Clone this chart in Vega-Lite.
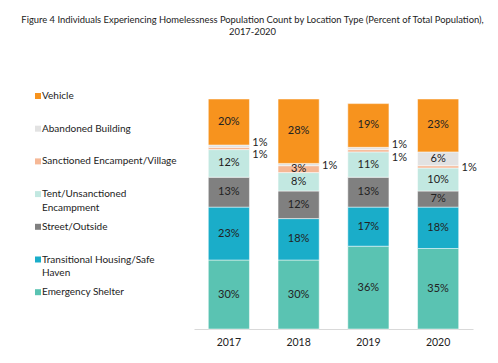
{
  "$schema": "https://vega.github.io/schema/vega-lite/v6.json",
  "width": 279,
  "height": 230,
  "autosize": {"type": "none"},
  "padding": {"left": 194, "top": 99, "right": 25, "bottom": 34},
  "config": {"view": {"stroke": null}, "font": "Lato"},
  "title": {
    "text": ["Figure 4 Individuals Experiencing Homelessness Population Count by Location Type (Percent of Total Population),", "2017-2020"],
    "fontSize": 9.4,
    "fontWeight": "normal",
    "font": "Lato",
    "color": "#222222",
    "anchor": "middle",
    "dx": -81,
    "offset": 54,
    "lineHeight": 12
  },
  "data": {
    "values": [
      {"year": "2017", "cat": "Emergency Shelter", "v": 30, "o": 1},
      {"year": "2017", "cat": "Transitional Housing/Safe Haven", "v": 23, "o": 2},
      {"year": "2017", "cat": "Street/Outside", "v": 13, "o": 3},
      {"year": "2017", "cat": "Tent/Unsanctioned Encampment", "v": 12, "o": 4},
      {"year": "2017", "cat": "Sanctioned Encampent/Village", "v": 1, "o": 5},
      {"year": "2017", "cat": "Abandoned Building", "v": 1, "o": 6},
      {"year": "2017", "cat": "Vehicle", "v": 20, "o": 7},
      {"year": "2018", "cat": "Emergency Shelter", "v": 30, "o": 1},
      {"year": "2018", "cat": "Transitional Housing/Safe Haven", "v": 18, "o": 2},
      {"year": "2018", "cat": "Street/Outside", "v": 12, "o": 3},
      {"year": "2018", "cat": "Tent/Unsanctioned Encampment", "v": 8, "o": 4},
      {"year": "2018", "cat": "Sanctioned Encampent/Village", "v": 3, "o": 5},
      {"year": "2018", "cat": "Abandoned Building", "v": 1, "o": 6},
      {"year": "2018", "cat": "Vehicle", "v": 28, "o": 7},
      {"year": "2019", "cat": "Emergency Shelter", "v": 36, "o": 1},
      {"year": "2019", "cat": "Transitional Housing/Safe Haven", "v": 17, "o": 2},
      {"year": "2019", "cat": "Street/Outside", "v": 13, "o": 3},
      {"year": "2019", "cat": "Tent/Unsanctioned Encampment", "v": 11, "o": 4},
      {"year": "2019", "cat": "Sanctioned Encampent/Village", "v": 1, "o": 5},
      {"year": "2019", "cat": "Abandoned Building", "v": 1, "o": 6},
      {"year": "2019", "cat": "Vehicle", "v": 19, "o": 7},
      {"year": "2020", "cat": "Emergency Shelter", "v": 35, "o": 1},
      {"year": "2020", "cat": "Transitional Housing/Safe Haven", "v": 18, "o": 2},
      {"year": "2020", "cat": "Street/Outside", "v": 7, "o": 3},
      {"year": "2020", "cat": "Tent/Unsanctioned Encampment", "v": 10, "o": 4},
      {"year": "2020", "cat": "Sanctioned Encampent/Village", "v": 1, "o": 5},
      {"year": "2020", "cat": "Abandoned Building", "v": 6, "o": 6},
      {"year": "2020", "cat": "Vehicle", "v": 23, "o": 7}
    ]
  },
  "transform": [
    {"stack": "v", "groupby": ["year"], "sort": [{"field": "o", "order": "ascending"}], "as": ["v0", "v1"]},
    {"calculate": "(datum.v0 + datum.v1) / 2", "as": "mid"},
    {"calculate": "datum.v + '%'", "as": "lab"}
  ],
  "encoding": {
    "x": {
      "field": "year",
      "type": "nominal",
      "scale": {"paddingInner": 0.41, "paddingOuter": 0.205},
      "axis": {
        "title": null,
        "labelAngle": 0,
        "labelFontSize": 10.5,
        "labelColor": "#222222",
        "labelPadding": 8,
        "ticks": false,
        "domainColor": "#d9d9d9",
        "domainWidth": 1
      }
    }
  },
  "layer": [
    {
      "mark": {"type": "bar", "stroke": "white", "strokeWidth": 0.5},
      "encoding": {
        "y": {"field": "v0", "type": "quantitative", "scale": {"domain": [0, 100]}, "axis": null},
        "y2": {"field": "v1"},
        "color": {
          "field": "cat",
          "type": "nominal",
          "scale": {
            "domain": ["Vehicle", "Abandoned Building", "Sanctioned Encampent/Village", "Tent/Unsanctioned Encampment", "Street/Outside", "Transitional Housing/Safe Haven", "Emergency Shelter"],
            "range": ["#F7931E", "#E2E2E2", "#F6B896", "#C2E8E1", "#808080", "#1AADC9", "#5AC3B2"]
          },
          "legend": {
            "title": null,
            "orient": "none",
            "legendX": -161,
            "legendY": -8,
            "symbolType": "square",
            "symbolSize": 36,
            "symbolStrokeWidth": 0,
            "labelFontSize": 10,
            "labelColor": "#222222",
            "labelOffset": -1,
            "labelBaseline": "top",
            "gridAlign": "all",
            "rowPadding": 8.7,
            "labelLimit": 300,
            "labelExpr": "datum.label == 'Tent/Unsanctioned Encampment' ? ['Tent/Unsanctioned', 'Encampment'] : datum.label == 'Transitional Housing/Safe Haven' ? ['Transitional Housing/Safe', 'Haven'] : datum.label",
            "encoding": {"labels": {"dy": {"value": -5}, "lineHeight": {"value": 13.7}}}
          }
        }
      }
    },
    {
      "transform": [{"filter": "datum.v >= 3"}],
      "mark": {"type": "text", "fontSize": 11, "color": "#222222"},
      "encoding": {
        "y": {"field": "mid", "type": "quantitative"},
        "text": {"field": "lab", "type": "nominal"}
      }
    },
    {
      "transform": [{"filter": "datum.v < 3 && (datum.year == '2017' || datum.year == '2019') && datum.cat == 'Abandoned Building'"}],
      "mark": {"type": "text", "fontSize": 11, "color": "#222222", "dx": 31, "dy": -3},
      "encoding": {
        "y": {"field": "mid", "type": "quantitative"},
        "text": {"field": "lab", "type": "nominal"}
      }
    },
    {
      "transform": [{"filter": "datum.v < 3 && (datum.year == '2017' || datum.year == '2019') && datum.cat == 'Sanctioned Encampent/Village'"}],
      "mark": {"type": "text", "fontSize": 11, "color": "#222222", "dx": 31, "dy": 7},
      "encoding": {
        "y": {"field": "mid", "type": "quantitative"},
        "text": {"field": "lab", "type": "nominal"}
      }
    },
    {
      "transform": [{"filter": "datum.v < 3 && (datum.year == '2018' || datum.year == '2020')"}],
      "mark": {"type": "text", "fontSize": 11, "color": "#222222", "dx": 31, "dy": 1},
      "encoding": {
        "y": {"field": "mid", "type": "quantitative"},
        "text": {"field": "lab", "type": "nominal"}
      }
    }
  ]
}
